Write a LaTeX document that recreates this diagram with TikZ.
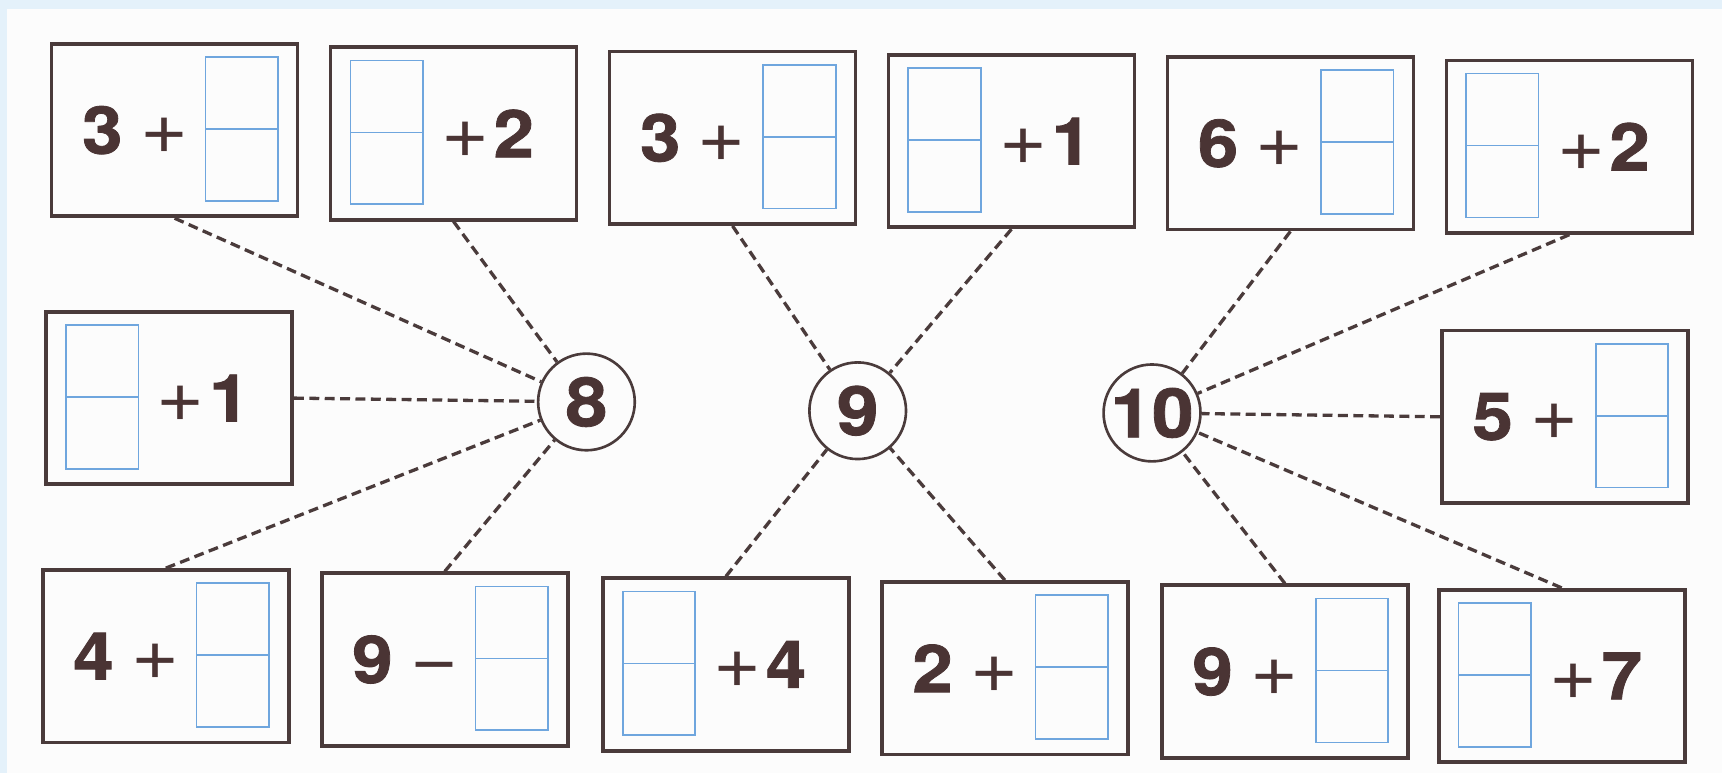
\documentclass[tikz,border=0pt]{standalone}
\usepackage{fontspec}
\newfontfamily\numfont{TeX Gyre Heros}[FakeStretch=1.1]
\newfontfamily\numboldfont{TeX Gyre Heros Bold}[FakeStretch=1.1, FakeBold=1.2]
\definecolor{boxcol}{HTML}{4A3B3B}
\definecolor{textcol}{HTML}{4A3434}
\definecolor{blankcol}{HTML}{6FA6DE}
\definecolor{bgblue}{HTML}{E4F1FA}
\definecolor{paper}{HTML}{FCFCFC}
\newcommand\dg[1]{{\numboldfont #1}}
\newcommand\op[1]{{\fontsize{68}{68}\selectfont #1}}
\tikzset{
  eqbox/.style={draw=boxcol, line width=3.4pt, minimum width=224pt, minimum height=157pt, inner sep=0pt},
  blank/.style={draw=blankcol, line width=1.5pt, minimum width=66pt, minimum height=131pt, inner sep=0pt,
    path picture={\draw[blankcol, line width=1.5pt] (path picture bounding box.west) -- (path picture bounding box.east);}},
  num/.style={text=textcol, inner sep=0pt, font=\numfont\fontsize{60}{60}\selectfont},
  circ/.style={circle, draw=boxcol, line width=2.4pt, minimum size=88pt, inner sep=0pt, text=textcol,
    font=\numboldfont\fontsize{62}{62}\selectfont},
  conn/.style={draw=boxcol, line width=3pt, dash pattern=on 9pt off 5pt},
}
\newcommand\eqL[5]{%
  \node[eqbox] (#1) at (#2,#3) {};
  \node[blank] (#1b) at ([xshift=61pt,yshift=1pt]#1.center) {};
  \node[num] (#1t) at ([xshift=-36pt]#1.center) {\dg{#4}\hspace{16pt}\op{#5}};
}
\newcommand\eqR[4]{%
  \node[eqbox] (#1) at (#2,#3) {};
  \node[blank] (#1b) at ([xshift=-61pt,yshift=1pt]#1.center) {};
  \node[num] (#1t) at ([xshift=31pt]#1.center) {\op{+}\hspace{4pt}\dg{#4}};
}
\begin{document}
\begin{tikzpicture}[x=1pt, y=-1pt]
\useasboundingbox (0,0) rectangle (1568,704);
\fill[paper] (0,0) rectangle (1568,704);
\fill[bgblue] (0,0) rectangle (1568,8);
\fill[bgblue] (0,0) rectangle (6,704);

\eqL{b1}{159}{118.5}{3}{+}
\eqR{b2}{413}{121.5}{2}
\eqL{b3}{667}{125.5}{3}{+}
\eqR{b4}{921}{128.5}{1}
\eqL{b5}{1175}{130.5}{6}{+}
\eqR{b6}{1429}{133.5}{2}
\eqR{b7}{154}{362.5}{1}
\eqL{b8}{1425}{379.5}{5}{+}
\eqL{b9}{151}{597.5}{4}{+}
\eqL{b10}{405}{600.5}{9}{−}
\eqR{b11}{661}{605}{4}
\eqL{b12}{915}{608.5}{2}{+}
\eqL{b13}{1170}{611.5}{9}{+}
\eqR{b14}{1422}{615.5}{7}

\node[circ] (c8) at (534,366) {8};
\node[circ] (c9) at (781,374) {9};
\node[circ] (c10) at (1049,376) {10};

\draw[conn] (b1.south) -- (c8);
\draw[conn] (b2.south) -- (c8);
\draw[conn] (b7.east) -- (c8);
\draw[conn] (b9.north) -- (c8);
\draw[conn] (b10.north) -- (c8);

\draw[conn] (b3.south) -- (c9);
\draw[conn] (b4.south) -- (c9);
\draw[conn] (b11.north) -- (c9);
\draw[conn] (b12.north) -- (c9);

\draw[conn] (b5.south) -- (c10);
\draw[conn] (b6.south) -- (c10);
\draw[conn] (b8.west) -- (c10);
\draw[conn] (b13.north) -- (c10);
\draw[conn] (b14.north) -- (c10);
\end{tikzpicture}
\end{document}
